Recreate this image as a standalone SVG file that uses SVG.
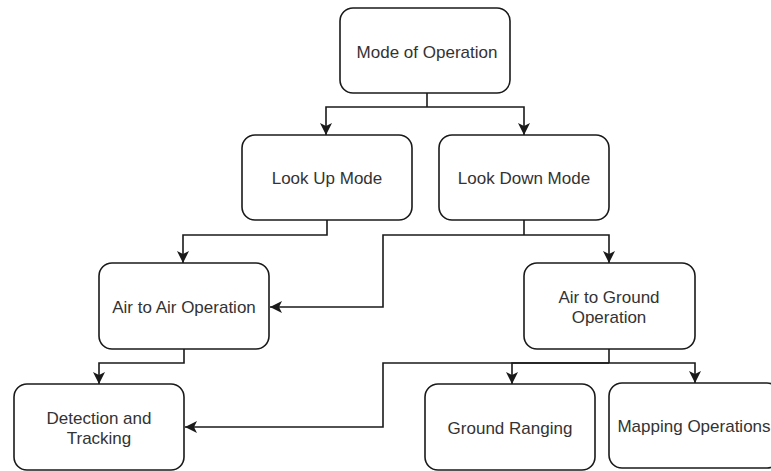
<svg xmlns="http://www.w3.org/2000/svg" width="771" height="471" viewBox="0 0 771 471">
<style>
.box{fill:#ffffff;stroke:#1a1a1a;stroke-width:1.6}
.lbl{font-family:"Liberation Sans",Arial,sans-serif;font-size:17px;fill:#333333;text-anchor:middle}
.edge{fill:none;stroke:#1a1a1a;stroke-width:1.6;marker-end:url(#arr)}
.line{fill:none;stroke:#1a1a1a;stroke-width:1.6}
</style>
<defs>
<marker id="arr" markerUnits="userSpaceOnUse" markerWidth="13" markerHeight="13" viewBox="0 0 13 13" refX="12" refY="6.5" orient="auto">
<path d="M0,0.5 L12,6.5 L0,12.5 L3,6.5 Z" fill="#1a1a1a"/>
</marker>
</defs>
<rect width="771" height="471" fill="#ffffff"/>
<g id="connectors">
<path class="line" d="M427,93 V107"/>
<path class="edge" d="M427,107 H326 V135"/>
<path class="edge" d="M427,107 H524 V135"/>
<path class="edge" d="M327,220 V235 H183 V263"/>
<path class="line" d="M524,220 V235"/>
<path class="edge" d="M524,235 H383 V307 H270"/>
<path class="edge" d="M524,235 H609 V263"/>
<path class="edge" d="M184,349 V363 H99 V384"/>
<path class="line" d="M609,349 V363"/>
<path class="edge" d="M609,363 H383 V427 H185"/>
<path class="edge" d="M609,363 H512 V384"/>
<path class="edge" d="M609,363 H695 V383"/>
</g>
<g id="mode">
<rect class="box" x="340" y="8" width="170" height="85" rx="13"/>
<text class="lbl" x="427" y="58">Mode of Operation</text>
</g>
<g id="lookup">
<rect class="box" x="242" y="135" width="170" height="85" rx="13"/>
<text class="lbl" x="327" y="184">Look Up Mode</text>
</g>
<g id="lookdown">
<rect class="box" x="439" y="135" width="170" height="85" rx="13"/>
<text class="lbl" x="524" y="184">Look Down Mode</text>
</g>
<g id="airair">
<rect class="box" x="99" y="263" width="170" height="86" rx="13"/>
<text class="lbl" x="184" y="313">Air to Air Operation</text>
</g>
<g id="airground">
<rect class="box" x="524" y="263" width="171" height="86" rx="13"/>
<text class="lbl" x="609" y="303">Air to Ground</text>
<text class="lbl" x="609" y="323">Operation</text>
</g>
<g id="detection">
<rect class="box" x="14" y="384" width="170" height="86" rx="13"/>
<text class="lbl" x="99" y="424">Detection and</text>
<text class="lbl" x="99" y="444">Tracking</text>
</g>
<g id="ranging">
<rect class="box" x="425" y="384" width="170" height="86" rx="13"/>
<text class="lbl" x="510" y="434">Ground Ranging</text>
</g>
<g id="mapping">
<rect class="box" x="609" y="383" width="171" height="85" rx="13"/>
<text class="lbl" x="694" y="432">Mapping Operations</text>
</g>
</svg>
